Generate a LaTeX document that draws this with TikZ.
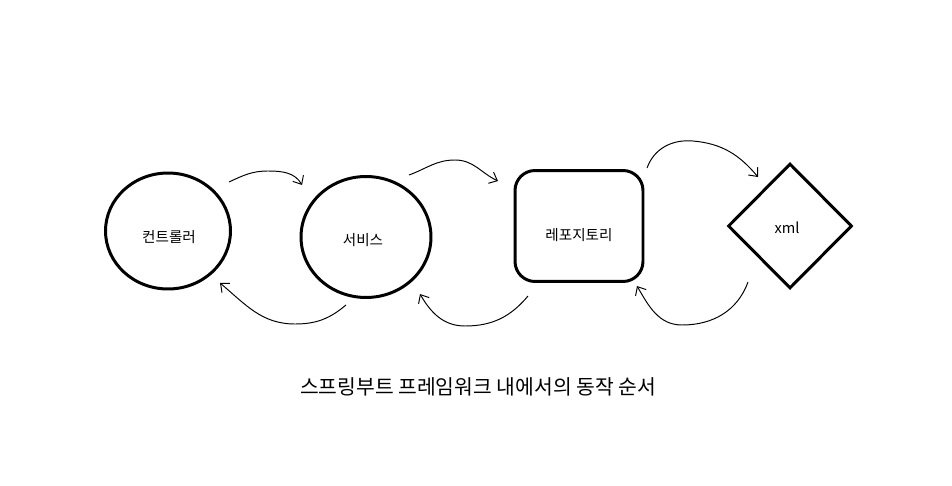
\documentclass[tikz,border=0pt]{standalone}
\usepackage{fontspec}
\newfontfamily\kr{Noto Sans CJK KR}
\usepackage{tikz}
\usetikzlibrary{arrows.meta,shapes.geometric}
\tikzset{
  etapa/.style={draw,line width=1.7pt,inner sep=0pt},
  rotulo/.style={font=\kr\fontsize{8.3}{10}\selectfont},
  seta/.style={->,line width=0.55pt}
}

\begin{document}
\begin{tikzpicture}[x=0.02cm,y=-0.02cm,>={Straight Barb[length=4pt,width=7pt]}]
		\useasboundingbox (0,0) rectangle (952,486);

%		camadas
		\node[etapa,ellipse,minimum width=2.5cm,minimum height=2.32cm] (ctrl) at (168,231) {};
		\node[rotulo] (ctrltxt) at (169,237) {컨트롤러};
		\node[etapa,ellipse,minimum width=2.6cm,minimum height=2.42cm] (serv) at (366,237) {};
		\node[rotulo] (servtxt) at (363,240) {서비스};
		\node[etapa,rectangle,rounded corners=0.4cm,minimum width=2.56cm,minimum height=2.22cm] (repo) at (579,226) {};
		\node[rotulo] (repotxt) at (579,235) {레포지토리};
		\node[etapa,diamond,shape aspect=1,minimum width=2.48cm,minimum height=2.5cm] (xml) at (790,226) {};
		\node[rotulo] (xmltxt) at (787,228) {xml};

%		ida
		\coordinate (a1) at (229,182);
		\coordinate (a2) at (302,185);
		\coordinate (b1) at (409,175);
		\coordinate (b2) at (498,181);
		\coordinate (c1) at (647,168);
		\coordinate (c2) at (758,177);
		\draw[seta] (a1) to[out=25,in=180] (268,171) to[out=0,in=120] (a2);
		\draw[seta] (b1) to[out=20,in=180] (455,160) to[out=0,in=155] (b2);
		\draw[seta] (c1) to[out=70,in=175] (693,141) to[out=-5,in=130] (c2);

%		volta
		\coordinate (d1) at (748,282);
		\coordinate (d2) at (637,286);
		\coordinate (e1) at (528,296);
		\coordinate (e2) at (420,294);
		\coordinate (f1) at (346,305);
		\coordinate (f2) at (220,283);
		\draw[seta] (d1) to[out=-110,in=0] (682,325) to[out=180,in=-60] (d2);
		\draw[seta] (e1) to[out=-130,in=0] (465,326) to[out=180,in=-60] (e2);
		\draw[seta] (f1) to[out=-140,in=0] (295,324) to[out=180,in=-40] (f2);

		\node[font=\kr\fontsize{11.6}{14}\selectfont] (titulo) at (478,387) {스프링부트 프레임워크 내에서의 동작 순서};
\end{tikzpicture}
\end{document}
